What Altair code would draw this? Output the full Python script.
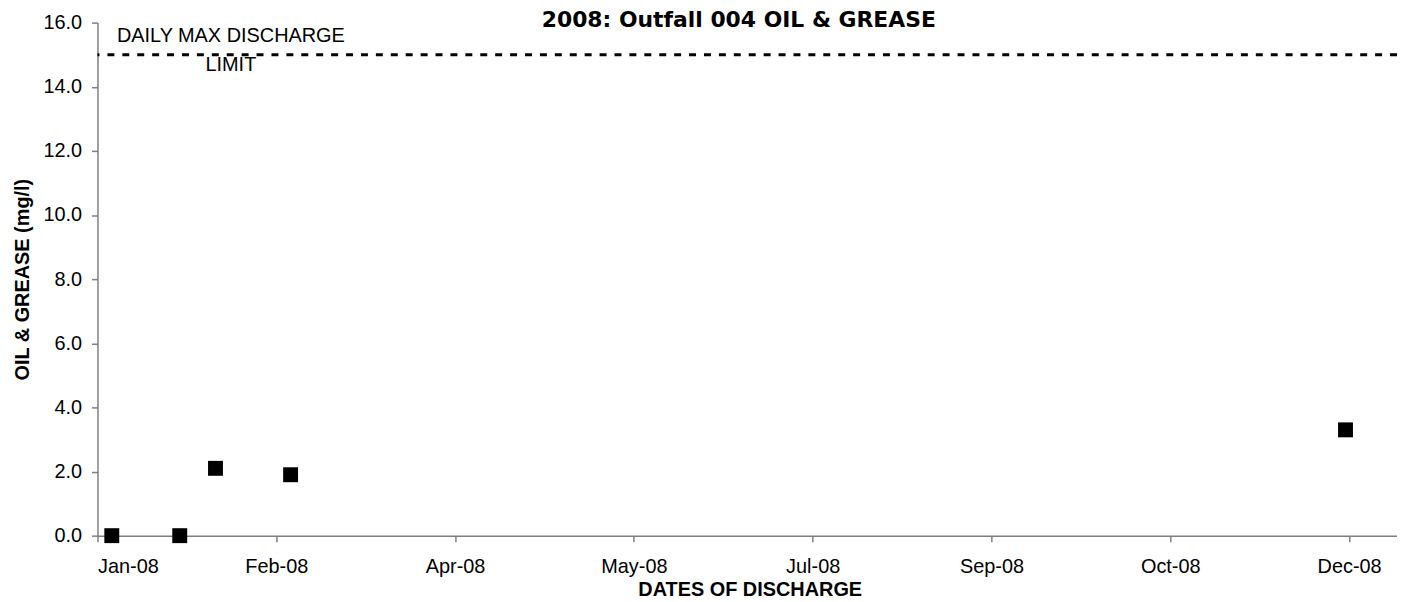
import altair as alt
import pandas as pd

# ---- data ----
sample_dates = ["2008-01-05", "2008-01-24", "2008-02-03", "2008-02-24", "2008-12-15"]
oil_grease = [0.0, 0.0, 2.1, 1.9, 3.3]
limit_value = [15.0]
limit_label_lines = ["DAILY MAX DISCHARGE", "LIMIT"]
limit_label_day = [37.3, 37.3]
limit_label_y = [15.41, 14.50]
x_tick_days = [0, 50, 100, 150, 200, 250, 300, 350]
y_ticks = [0, 2, 4, 6, 8, 10, 12, 14, 16]
chart_title = ["2008: Outfall 004 OIL & GREASE"]

origin = pd.Timestamp("2008-01-01")
df = pd.DataFrame({
    "date": sample_dates,
    "day": (pd.to_datetime(sample_dates) - origin).days,
    "value": oil_grease,
})
limit_df = pd.DataFrame({"limit": limit_value})
label_df = pd.DataFrame({"text": limit_label_lines, "day": limit_label_day, "y": limit_label_y})
title_df = pd.DataFrame({"text": chart_title})

FONT = "Liberation Sans"
W, H = 1307, 516

xscale = alt.Scale(domain=[0, 363.4], nice=False, zero=False)
yscale = alt.Scale(domain=[0, 16], nice=False)

x_axis = alt.Axis(
    values=x_tick_days,
    labelExpr="timeFormat(datetime(2008, 0, 1 + datum.value), '%b-%y')",
    title="DATES OF DISCHARGE",
    titleX=656, titleY=60, titleBaseline="alphabetic",
    labelPadding=15,
)
y_axis = alt.Axis(
    values=y_ticks, format=".1f",
    title="OIL & GREASE (mg/l)",
    titleX=-69, titleY=H / 2, titleBaseline="alphabetic",
    labelPadding=10,
)

points = alt.Chart(df).mark_square(size=225, color="black", opacity=1).encode(
    x=alt.X("day:Q", scale=xscale, axis=x_axis),
    y=alt.Y("value:Q", scale=yscale, axis=y_axis),
)

limit_rule = alt.Chart(limit_df).mark_rule(
    color="black", strokeWidth=3, strokeDash=[7, 8]
).encode(y=alt.Y("limit:Q", scale=yscale))

labels = alt.Chart(label_df).mark_text(
    font=FONT, fontSize=20, color="black", align="center", baseline="alphabetic"
).encode(
    x=alt.X("day:Q", scale=xscale),
    y=alt.Y("y:Q", scale=yscale),
    text="text:N",
)

title = alt.Chart(title_df).mark_text(
    font="DejaVu Sans", fontSize=22, fontWeight="bold", color="black",
    align="center", baseline="alphabetic",
).encode(
    x=alt.value(645),
    y=alt.value(4),
    text="text:N",
)

chart = alt.layer(limit_rule, points, labels, title).properties(
    width=W, height=H,
    autosize=alt.AutoSizeParams(type="none"),
    padding={"left": 90, "top": 13, "right": 0, "bottom": 63},
).configure_view(stroke=None).configure_axis(
    grid=False,
    domainColor="#808080", tickColor="#808080", domainWidth=1.5, tickWidth=1.5,
    tickSize=6,
    labelFont=FONT, labelFontSize=20, labelColor="black",
    titleFont=FONT, titleFontSize=20, titleFontWeight="bold", titleColor="black",
)

chart.save("out.html", embed_options={"renderer": "svg", "actions": False})
